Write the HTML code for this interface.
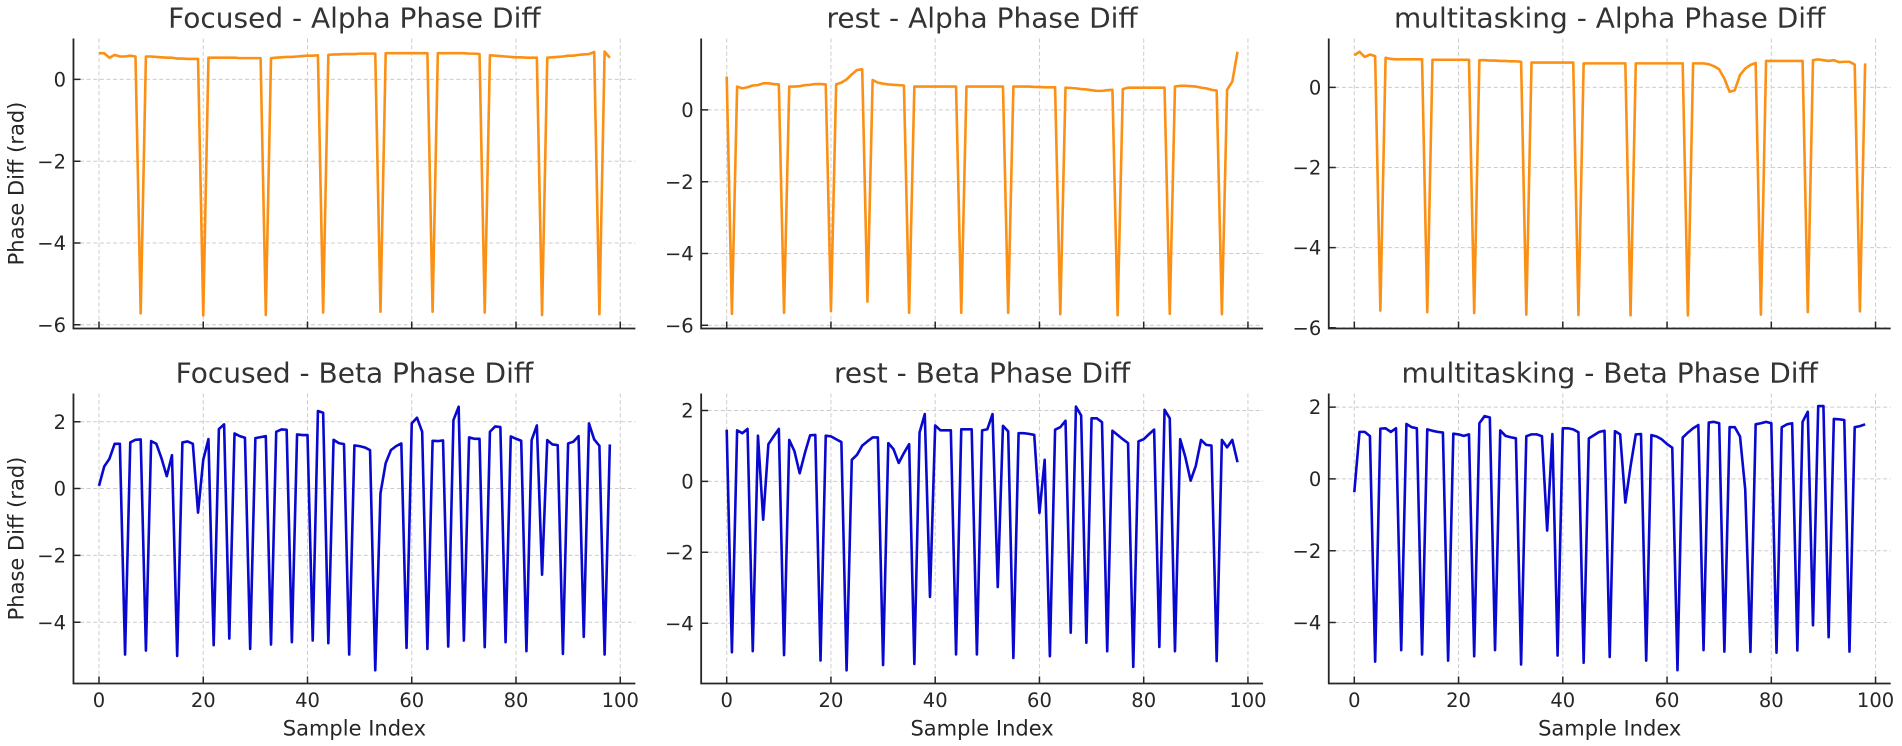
<!DOCTYPE html>
<html>
<head>
<meta charset="utf-8">
<style>
html,body{margin:0;padding:0;background:#fff;}
svg{display:block;}
text{font-family:"DejaVu Sans","Liberation Sans",sans-serif;}
.tk{font-size:19.5px;fill:#262626;}
.ttl{font-size:28px;fill:#333333;}
.lab{font-size:21px;fill:#262626;}
.grid{fill:none;stroke:#cccccc;stroke-width:1;stroke-dasharray:4 2.6;}
.ticks{fill:none;stroke:#262626;stroke-width:1.5;}
.spine{fill:none;stroke:#262626;stroke-width:1.8;}
.or{fill:none;stroke:#fb9014;stroke-width:2.6;stroke-linejoin:round;}
.bl{fill:none;stroke:#0808cf;stroke-width:2.6;stroke-linejoin:round;}
</style>
</head>
<body>
<svg width="1902" height="746" viewBox="0 0 1902 746" xmlns="http://www.w3.org/2000/svg">
<rect x="0" y="0" width="1902" height="746" fill="#fff"/>

<!-- ===== GRIDS ===== -->
<path class="grid" d="M99 38.5V328.5M203.25 38.5V328.5M307.5 38.5V328.5M411.75 38.5V328.5M516 38.5V328.5M620.25 38.5V328.5M73.46 79.4H635.37M73.46 161.2H635.37M73.46 243H635.37M73.46 324.8H635.37"/>
<path class="grid" d="M726.7 38.5V328.5M830.95 38.5V328.5M935.2 38.5V328.5M1039.45 38.5V328.5M1143.7 38.5V328.5M1247.95 38.5V328.5M701.16 109.9H1263.07M701.16 181.7H1263.07M701.16 253.5H1263.07M701.16 325.3H1263.07"/>
<path class="grid" d="M1354.3 38.5V328.5M1458.55 38.5V328.5M1562.8 38.5V328.5M1667.05 38.5V328.5M1771.3 38.5V328.5M1875.55 38.5V328.5M1328.76 87.4H1890.67M1328.76 167.5H1890.67M1328.76 247.6H1890.67M1328.76 327.7H1890.67"/>
<path class="grid" d="M99 393.5V683.5M203.25 393.5V683.5M307.5 393.5V683.5M411.75 393.5V683.5M516 393.5V683.5M620.25 393.5V683.5M73.46 421.7H635.37M73.46 488.55H635.37M73.46 555.4H635.37M73.46 622.2H635.37"/>
<path class="grid" d="M726.7 393.5V683.5M830.95 393.5V683.5M935.2 393.5V683.5M1039.45 393.5V683.5M1143.7 393.5V683.5M1247.95 393.5V683.5M701.16 410.5H1263.07M701.16 481.4H1263.07M701.16 552.3H1263.07M701.16 623.2H1263.07"/>
<path class="grid" d="M1354.3 393.5V683.5M1458.55 393.5V683.5M1562.8 393.5V683.5M1667.05 393.5V683.5M1771.3 393.5V683.5M1875.55 393.5V683.5M1328.76 407.1H1890.67M1328.76 478.9H1890.67M1328.76 550.7H1890.67M1328.76 622.5H1890.67"/>

<!-- ===== DATA ===== -->
<g transform="translate(99,79.4) scale(5.2125,-40.9)">
<polyline class="or" vector-effect="non-scaling-stroke" points="0,0.64 1,0.64 2,0.53 3,0.6 4,0.56 5,0.56 6,0.58 7,0.56 8,-5.72 9,0.56 10,0.56 11,0.55 12,0.54 13,0.53 14,0.53 15,0.51 16,0.51 17,0.5 18,0.5 19,0.5 20,-5.77 21,0.53 22,0.53 23,0.53 24,0.53 25,0.53 26,0.53 27,0.52 28,0.52 29,0.52 30,0.52 31,0.52 32,-5.76 33,0.52 34,0.53 35,0.54 36,0.55 37,0.55 38,0.56 39,0.57 40,0.58 41,0.58 42,0.59 43,-5.7 44,0.6 45,0.61 46,0.61 47,0.62 48,0.62 49,0.62 50,0.63 51,0.63 52,0.63 53,0.63 54,-5.68 55,0.64 56,0.64 57,0.64 58,0.64 59,0.64 60,0.64 61,0.64 62,0.64 63,0.64 64,-5.68 65,0.64 66,0.64 67,0.64 68,0.64 69,0.64 70,0.64 71,0.63 72,0.63 73,0.62 74,-5.7 75,0.59 76,0.58 77,0.57 78,0.56 79,0.55 80,0.54 81,0.54 82,0.53 83,0.53 84,0.53 85,-5.76 86,0.53 87,0.54 88,0.55 89,0.56 90,0.58 91,0.58 92,0.6 93,0.61 94,0.62 95,0.67 96,-5.74 97,0.68 98,0.53"/>
</g>
<g transform="translate(726.7,109.9) scale(5.2125,-35.9)">
<polyline class="or" vector-effect="non-scaling-stroke" points="0,0.93 1,-5.68 2,0.65 3,0.6 4,0.63 5,0.68 6,0.69 7,0.74 8,0.74 9,0.72 10,0.71 11,-5.65 12,0.65 13,0.65 14,0.66 15,0.69 16,0.7 17,0.72 18,0.72 19,0.71 20,-5.6 21,0.71 22,0.76 23,0.85 24,0.99 25,1.11 26,1.13 27,-5.34 28,0.83 29,0.76 30,0.73 31,0.71 32,0.7 33,0.69 34,0.68 35,-5.65 36,0.65 37,0.65 38,0.65 39,0.65 40,0.65 41,0.65 42,0.65 43,0.65 44,0.65 45,-5.65 46,0.65 47,0.65 48,0.65 49,0.65 50,0.65 51,0.65 52,0.65 53,0.65 54,-5.65 55,0.65 56,0.65 57,0.65 58,0.65 59,0.64 60,0.64 61,0.63 62,0.63 63,0.63 64,-5.69 65,0.62 66,0.61 67,0.6 68,0.58 69,0.57 70,0.55 71,0.53 72,0.53 73,0.55 74,0.56 75,-5.72 76,0.58 77,0.62 78,0.62 79,0.62 80,0.62 81,0.62 82,0.62 83,0.62 84,0.62 85,-5.68 86,0.65 87,0.67 88,0.67 89,0.66 90,0.65 91,0.62 92,0.6 93,0.56 94,0.54 95,-5.69 96,0.56 97,0.79 98,1.62"/>
</g>
<g transform="translate(1354.3,87.4) scale(5.2125,-40.06)">
<polyline class="or" vector-effect="non-scaling-stroke" points="0,0.8 1,0.89 2,0.76 3,0.82 4,0.78 5,-5.57 6,0.74 7,0.71 8,0.7 9,0.7 10,0.7 11,0.7 12,0.7 13,0.7 14,-5.61 15,0.69 16,0.69 17,0.69 18,0.69 19,0.69 20,0.69 21,0.69 22,0.69 23,-5.63 24,0.68 25,0.68 26,0.67 27,0.67 28,0.66 29,0.66 30,0.65 31,0.65 32,0.64 33,-5.67 34,0.62 35,0.62 36,0.62 37,0.62 38,0.62 39,0.62 40,0.62 41,0.62 42,0.62 43,-5.68 44,0.6 45,0.6 46,0.6 47,0.6 48,0.6 49,0.6 50,0.6 51,0.6 52,0.6 53,-5.69 54,0.6 55,0.6 56,0.6 57,0.6 58,0.6 59,0.6 60,0.6 61,0.6 62,0.6 63,0.6 64,-5.69 65,0.6 66,0.6 67,0.6 68,0.58 69,0.53 70,0.45 71,0.22 72,-0.11 73,-0.07 74,0.31 75,0.47 76,0.56 77,0.61 78,-5.67 79,0.66 80,0.66 81,0.66 82,0.66 83,0.66 84,0.66 85,0.66 86,0.66 87,-5.61 88,0.68 89,0.7 90,0.68 91,0.66 92,0.68 93,0.63 94,0.64 95,0.64 96,0.57 97,-5.59 98,0.6"/>
</g>
<g transform="translate(99,488.55) scale(5.2125,-33.41)">
<polyline class="bl" vector-effect="non-scaling-stroke" points="0,0.08 1,0.66 2,0.89 3,1.34 4,1.34 5,-4.97 6,1.38 7,1.46 8,1.47 9,-4.85 10,1.42 11,1.34 12,0.9 13,0.37 14,1 15,-5.01 16,1.38 17,1.41 18,1.34 19,-0.72 20,0.86 21,1.48 22,-4.69 23,1.78 24,1.92 25,-4.49 26,1.65 27,1.57 28,1.52 29,-4.8 30,1.51 31,1.54 32,1.57 33,-4.67 34,1.7 35,1.77 36,1.76 37,-4.6 38,1.62 39,1.6 40,1.6 41,-4.55 42,2.32 43,2.27 44,-4.63 45,1.46 46,1.36 47,1.33 48,-4.97 49,1.29 50,1.27 51,1.23 52,1.15 53,-5.44 54,-0.14 55,0.76 56,1.15 57,1.27 58,1.35 59,-4.77 60,1.95 61,2.12 62,1.7 63,-4.8 64,1.43 65,1.42 66,1.44 67,-4.73 68,2.05 69,2.45 70,-4.55 71,1.53 72,1.49 73,1.49 74,-4.75 75,1.7 76,1.86 77,1.84 78,-4.6 79,1.56 80,1.49 81,1.43 82,-4.87 83,1.45 84,1.89 85,-2.58 86,1.45 87,1.32 88,1.3 89,-4.95 90,1.35 91,1.4 92,1.57 93,-4.44 94,1.95 95,1.47 96,1.28 97,-4.97 98,1.32"/>
</g>
<g transform="translate(726.7,481.4) scale(5.2125,-35.45)">
<polyline class="bl" vector-effect="non-scaling-stroke" points="0,1.46 1,-4.82 2,1.44 3,1.36 4,1.48 5,-4.79 6,1.29 7,-1.08 8,1.05 9,1.27 10,1.48 11,-4.9 12,1.17 13,0.85 14,0.23 15,0.8 16,1.3 17,1.31 18,-5.05 19,1.29 20,1.27 21,1.19 22,1.11 23,-5.33 24,0.61 25,0.75 26,1.01 27,1.13 28,1.24 29,1.24 30,-5.18 31,1.08 32,0.91 33,0.52 34,0.8 35,1.05 36,-5.15 37,1.38 38,1.9 39,-3.26 40,1.58 41,1.44 42,1.44 43,1.44 44,-4.88 45,1.47 46,1.47 47,1.47 48,-4.88 49,1.44 50,1.47 51,1.9 52,-2.98 53,1.57 54,1.41 55,-4.98 56,1.36 57,1.36 58,1.34 59,1.31 60,-0.89 61,0.61 62,-4.93 63,1.46 64,1.53 65,1.71 66,-4.27 67,2.11 68,1.86 69,-4.55 70,1.78 71,1.78 72,1.67 73,-4.79 74,1.43 75,1.31 76,1.19 77,1.08 78,-5.23 79,1.13 80,1.19 81,1.33 82,1.46 83,-4.67 84,2.02 85,1.78 86,-4.79 87,1.19 88,0.68 89,0.02 90,0.44 91,1.17 92,1.03 93,1.01 94,-5.07 95,1.17 96,0.96 97,1.17 98,0.54"/>
</g>
<g transform="translate(1354.3,478.9) scale(5.2125,-35.9)">
<polyline class="bl" vector-effect="non-scaling-stroke" points="0,-0.37 1,1.31 2,1.31 3,1.19 4,-5.09 5,1.4 6,1.41 7,1.31 8,1.41 9,-4.77 10,1.53 11,1.44 12,1.41 13,-4.89 14,1.38 15,1.34 16,1.31 17,1.29 18,-5.06 19,1.26 20,1.24 21,1.2 22,1.24 23,-4.94 24,1.55 25,1.75 26,1.71 27,-4.77 28,1.35 29,1.2 30,1.16 31,1.13 32,-5.17 33,1.19 34,1.24 35,1.24 36,1.19 37,-1.44 38,1.25 39,-4.92 40,1.41 41,1.41 42,1.38 43,1.3 44,-5.12 45,1.13 46,1.22 47,1.31 48,1.34 49,-4.96 50,1.33 51,1.24 52,-0.66 53,0.35 54,1.24 55,1.25 56,-5.06 57,1.22 58,1.18 59,1.1 60,0.97 61,0.87 62,-5.33 63,1.15 64,1.29 65,1.41 66,1.5 67,-4.77 68,1.57 69,1.59 70,1.55 71,-4.81 72,1.44 73,1.44 74,1.18 75,-0.3 76,-4.82 77,1.52 78,1.55 79,1.59 80,1.55 81,-4.84 82,1.44 83,1.52 84,1.55 85,-4.78 86,1.59 87,1.87 88,-4.08 89,2.03 90,2.03 91,-4.41 92,1.67 93,1.66 94,1.64 95,-4.81 96,1.44 97,1.47 98,1.52"/>
</g>

<!-- ===== TICKS ===== -->
<path class="ticks" d="M73.46 79.4h7M73.46 161.2h7M73.46 243h7M73.46 324.8h7M99 328.5v-7M203.25 328.5v-7M307.5 328.5v-7M411.75 328.5v-7M516 328.5v-7M620.25 328.5v-7"/>
<path class="ticks" d="M701.16 109.9h7M701.16 181.7h7M701.16 253.5h7M701.16 325.3h7M726.7 328.5v-7M830.95 328.5v-7M935.2 328.5v-7M1039.45 328.5v-7M1143.7 328.5v-7M1247.95 328.5v-7"/>
<path class="ticks" d="M1328.76 87.4h7M1328.76 167.5h7M1328.76 247.6h7M1328.76 327.7h7M1354.3 328.5v-7M1458.55 328.5v-7M1562.8 328.5v-7M1667.05 328.5v-7M1771.3 328.5v-7M1875.55 328.5v-7"/>
<path class="ticks" d="M73.46 421.7h7M73.46 488.55h7M73.46 555.4h7M73.46 622.2h7M99 683.5v-7M203.25 683.5v-7M307.5 683.5v-7M411.75 683.5v-7M516 683.5v-7M620.25 683.5v-7"/>
<path class="ticks" d="M701.16 410.5h7M701.16 481.4h7M701.16 552.3h7M701.16 623.2h7M726.7 683.5v-7M830.95 683.5v-7M935.2 683.5v-7M1039.45 683.5v-7M1143.7 683.5v-7M1247.95 683.5v-7"/>
<path class="ticks" d="M1328.76 407.1h7M1328.76 478.9h7M1328.76 550.7h7M1328.76 622.5h7M1354.3 683.5v-7M1458.55 683.5v-7M1562.8 683.5v-7M1667.05 683.5v-7M1771.3 683.5v-7M1875.55 683.5v-7"/>

<!-- ===== SPINES ===== -->
<path class="spine" d="M73.46 38.5V328.5H635.37"/>
<path class="spine" d="M701.16 38.5V328.5H1263.07"/>
<path class="spine" d="M1328.76 38.5V328.5H1890.67"/>
<path class="spine" d="M73.46 393.5V683.5H635.37"/>
<path class="spine" d="M701.16 393.5V683.5H1263.07"/>
<path class="spine" d="M1328.76 393.5V683.5H1890.67"/>

<!-- ===== TITLES ===== -->
<text class="ttl" x="354.4" y="27.5" text-anchor="middle">Focused - Alpha Phase Diff</text>
<text class="ttl" x="982.1" y="27.5" text-anchor="middle">rest - Alpha Phase Diff</text>
<text class="ttl" x="1609.7" y="27.5" text-anchor="middle">multitasking - Alpha Phase Diff</text>
<text class="ttl" x="354.4" y="382.5" text-anchor="middle">Focused - Beta Phase Diff</text>
<text class="ttl" x="982.1" y="382.5" text-anchor="middle">rest - Beta Phase Diff</text>
<text class="ttl" x="1609.7" y="382.5" text-anchor="middle">multitasking - Beta Phase Diff</text>

<!-- ===== Y TICK LABELS ===== -->
<g class="tk" text-anchor="end">
<text x="66" y="86.5">0</text>
<text x="66" y="168.3">−2</text>
<text x="66" y="250.1">−4</text>
<text x="66" y="331.9">−6</text>

<text x="693.7" y="117">0</text>
<text x="693.7" y="188.8">−2</text>
<text x="693.7" y="260.6">−4</text>
<text x="693.7" y="332.4">−6</text>

<text x="1321.3" y="94.5">0</text>
<text x="1321.3" y="174.6">−2</text>
<text x="1321.3" y="254.7">−4</text>
<text x="1321.3" y="334.8">−6</text>

<text x="66" y="428.8">2</text>
<text x="66" y="495.7">0</text>
<text x="66" y="562.5">−2</text>
<text x="66" y="629.3">−4</text>

<text x="693.7" y="417.6">2</text>
<text x="693.7" y="488.5">0</text>
<text x="693.7" y="559.4">−2</text>
<text x="693.7" y="630.3">−4</text>

<text x="1321.3" y="414.2">2</text>
<text x="1321.3" y="486">0</text>
<text x="1321.3" y="557.8">−2</text>
<text x="1321.3" y="629.6">−4</text>
</g>

<!-- ===== X TICK LABELS ===== -->
<g class="tk" text-anchor="middle">
<text x="99" y="707">0</text>
<text x="203.25" y="707">20</text>
<text x="307.5" y="707">40</text>
<text x="411.75" y="707">60</text>
<text x="516" y="707">80</text>
<text x="620.25" y="707">100</text>

<text x="726.7" y="707">0</text>
<text x="830.95" y="707">20</text>
<text x="935.2" y="707">40</text>
<text x="1039.45" y="707">60</text>
<text x="1143.7" y="707">80</text>
<text x="1247.95" y="707">100</text>

<text x="1354.3" y="707">0</text>
<text x="1458.55" y="707">20</text>
<text x="1562.8" y="707">40</text>
<text x="1667.05" y="707">60</text>
<text x="1771.3" y="707">80</text>
<text x="1875.55" y="707">100</text>
</g>

<!-- ===== AXIS LABELS ===== -->
<text class="lab" x="354.4" y="735.5" text-anchor="middle">Sample Index</text>
<text class="lab" x="982.1" y="735.5" text-anchor="middle">Sample Index</text>
<text class="lab" x="1609.7" y="735.5" text-anchor="middle">Sample Index</text>
<text class="lab" transform="translate(23.5,183.5) rotate(-90)" text-anchor="middle">Phase Diff (rad)</text>
<text class="lab" transform="translate(23.5,538.5) rotate(-90)" text-anchor="middle">Phase Diff (rad)</text>
</svg>
</body>
</html>
